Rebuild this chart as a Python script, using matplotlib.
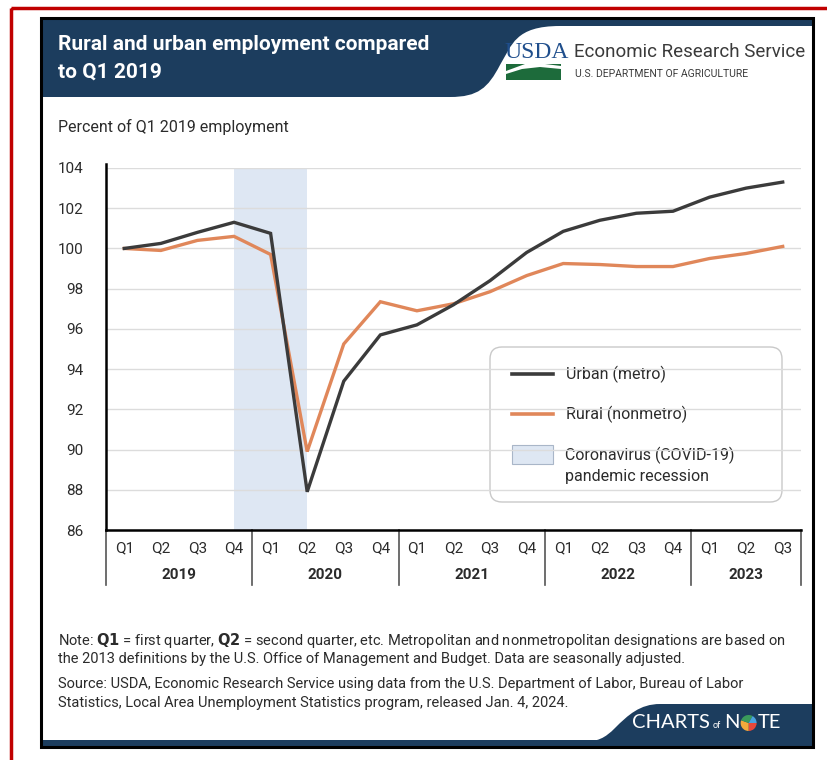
import matplotlib

matplotlib.use("Agg")
import matplotlib.pyplot as plt  # noqa: E402
from matplotlib import font_manager  # noqa: E402
from matplotlib.lines import Line2D  # noqa: E402
from matplotlib.patches import FancyBboxPatch, PathPatch, Rectangle, Wedge  # noqa: E402
from matplotlib.path import Path  # noqa: E402
import matplotlib.transforms as mtransforms  # noqa: E402

# Data: percent of Q1 2019 employment, quarterly 2019Q1 .. 2023Q3
quarters = ["Q1", "Q2", "Q3", "Q4"] * 4 + ["Q1", "Q2", "Q3"]
years = ["2019", "2020", "2021", "2022", "2023"]
urban = [100.0, 100.25, 100.8, 101.3, 100.75, 87.9, 93.4, 95.7,
         96.2, 97.2, 98.4, 99.8, 100.85, 101.4, 101.75, 101.85,
         102.55, 103.0, 103.3]
rural = [100.0, 99.9, 100.4, 100.6, 99.7, 89.9, 95.25, 97.35,
         96.9, 97.25, 97.85, 98.65, 99.25, 99.2, 99.1, 99.1,
         99.5, 99.75, 100.1]
recession = (3, 5)  # Q4 2019 .. Q2 2020 (index positions)
yticks = [86, 88, 90, 92, 94, 96, 98, 100, 102, 104]

NAVY = "#1c3d5e"
URBAN_C = "#3b3b3b"
RURAL_C = "#e0875a"
SHADE_C = "#dee7f3"
TEXT_C = "#2b2b2b"

names = {f.name for f in font_manager.fontManager.ttflist}
NARROW = "Liberation Sans Narrow" if "Liberation Sans Narrow" in names else "Roboto"
BODY = "Roboto"

W, H = 827, 760
fig = plt.figure(figsize=(W / 100, H / 100), dpi=100)

# background / decoration axes in pixel coordinates
bg = fig.add_axes([0, 0, 1, 1], zorder=0)
bg.set_xlim(0, W)
bg.set_ylim(H, 0)
bg.axis("off")

# outer red frame and inner black frame
bg.add_patch(Rectangle((11, 8), W, H, fill=False, ec="#c00000", lw=2.5))
bg.add_patch(Rectangle((41, 18), 772, 729, fill=False, ec="black", lw=2.2, zorder=5))

# header band with white logo area cut by a curve
bg.add_patch(Rectangle((41, 18), 772, 79, fc=NAVY, ec="none"))
verts = [(813, 26), (560, 26),
         (515, 26), (512, 45), (500, 65),
         (488, 88), (478, 97), (450, 97),
         (813, 97), (813, 26)]
codes = [Path.MOVETO, Path.LINETO,
         Path.CURVE4, Path.CURVE4, Path.CURVE4,
         Path.CURVE4, Path.CURVE4, Path.CURVE4,
         Path.LINETO, Path.CLOSEPOLY]
bg.add_patch(PathPatch(Path(verts, codes), fc="white", ec="none"))

bg.text(58, 45, "Rural and urban employment compared", color="white", fontsize=15,
        fontweight="bold", family=NARROW, va="center", ha="left")
bg.text(58, 72, "to Q1 2019", color="white", fontsize=15,
        fontweight="bold", family=NARROW, va="center", ha="left")

# USDA logo
bg.text(504, 52, "USDA", color="#1f4e8c", fontsize=17, family="Liberation Serif",
        va="center", ha="left")
bg.add_patch(Rectangle((506, 64), 55, 16, fc="#1d6b3b", ec="none"))
sw = [(506, 71), (525, 64), (545, 64), (561, 66), (561, 69), (540, 67), (522, 69), (506, 74)]
bg.add_patch(PathPatch(Path(sw + [sw[0]], [Path.MOVETO] + [Path.LINETO] * (len(sw) - 1) + [Path.CLOSEPOLY]),
                       fc="white", ec="none"))
bg.text(574, 52, "Economic Research Service", color="#3a3a3a", fontsize=13.5,
        family=NARROW, va="center", ha="left")
bg.text(575, 74, "U.S. DEPARTMENT OF AGRICULTURE", color="#3a3a3a", fontsize=7.5,
        family=NARROW, va="center", ha="left")

bg.text(58, 127, "Percent of Q1 2019 employment", color=TEXT_C, fontsize=11.5,
        family=BODY, va="center", ha="left")

# footer band
bg.add_patch(Rectangle((41, 740), 772, 7, fc=NAVY, ec="none"))
fverts = [(813, 704), (660, 704), (640, 704), (628, 715), (615, 728),
          (605, 738), (598, 742), (580, 742), (813, 742), (813, 704)]
fcodes = [Path.MOVETO, Path.LINETO, Path.CURVE4, Path.CURVE4, Path.CURVE4,
          Path.CURVE4, Path.CURVE4, Path.CURVE4, Path.LINETO, Path.CLOSEPOLY]
bg.add_patch(PathPatch(Path(fverts, fcodes), fc=NAVY, ec="none"))

# "CHARTS of NOTE" wordmark, pieces placed one after another
renderer = fig.canvas.get_renderer()
cx = 632
for txt, size, dy, gap in [("CHARTS", 14.5, 0, 3), ("of", 6.5, 3, 3), ("N", 14.5, 0, 1)]:
    t = bg.text(cx, 723 + dy, txt, color="white", fontsize=size, family="Lato",
                va="center", ha="left")
    cx = t.get_window_extent(renderer).x1 + gap
for a0, a1, c in [(0, 90, "#e8483a"), (90, 200, "#f2a93b"), (200, 300, "#3a9a5b"), (300, 360, "#4aa3df")]:
    bg.add_patch(Wedge((cx + 8, 723), 8, a0, a1, fc=c, ec="none"))
bg.text(cx + 17, 723, "TE", color="white", fontsize=14.5, family="Lato", va="center", ha="left")

# notes
note_kw = dict(color=TEXT_C, fontsize=10.5, family=NARROW, va="center", ha="left")
bg.text(58, 640, r"Note: $\mathbf{Q1}$ = first quarter, $\mathbf{Q2}$ = second quarter, etc. "
        "Metropolitan and nonmetropolitan designations are based on", **note_kw)
bg.text(58, 659, "the 2013 definitions by the U.S. Office of Management and Budget. "
        "Data are seasonally adjusted.", **note_kw)
bg.text(58, 684, "Source: USDA, Economic Research Service using data from the U.S. "
        "Department of Labor, Bureau of Labor", **note_kw)
bg.text(58, 703, "Statistics, Local Area Unemployment Statistics program, released Jan. 4, 2024.",
        **note_kw)

# main plot axes
x0, x1, ytop, ybot = 106, 801, 168, 530
ax = fig.add_axes([x0 / W, 1 - ybot / H, (x1 - x0) / W, (ybot - ytop) / H], zorder=2)
ax.set_facecolor("none")
xs = list(range(len(urban)))
ax.axvspan(recession[0], recession[1], color=SHADE_C, lw=0, zorder=0)
for yv in yticks:
    ax.axhline(yv, color="#dcdcdc", lw=1, zorder=1)
ax.plot(xs, rural, color=RURAL_C, lw=2.4, zorder=3, solid_joinstyle="miter")
ax.plot(xs, urban, color=URBAN_C, lw=2.4, zorder=4, solid_joinstyle="miter")
ax.set_xlim(-0.5, len(urban) - 0.5)
ax.set_ylim(86, 104)
ax.set_yticks(yticks)
ax.set_yticklabels([str(v) for v in yticks], family=BODY, fontsize=11, color=TEXT_C)
ax.set_xticks(xs)
ax.set_xticklabels(quarters, family=BODY, fontsize=11, color=TEXT_C)
ax.tick_params(axis="y", length=0, pad=16)
ax.tick_params(axis="x", length=0, pad=8)
for s in ["top", "right"]:
    ax.spines[s].set_visible(False)
ax.spines["left"].set_linewidth(1.8)
ax.spines["bottom"].set_linewidth(1.8)
ax.spines["left"].set_bounds(86, 104.2)

# year groups under the quarter labels
trans = mtransforms.blended_transform_factory(ax.transData, ax.transAxes)
bounds = [-0.5, 3.5, 7.5, 11.5, 15.5, len(urban) - 0.5]
for b in bounds:
    ax.add_line(Line2D([b, b], [0, -0.152], transform=trans, color="#555555",
                       lw=1.2, clip_on=False))
for i, yr in enumerate(years):
    ax.text((bounds[i] + bounds[i + 1]) / 2, -0.125, yr, transform=trans, ha="center",
            va="center", fontsize=11, fontweight="bold", family=BODY, color=TEXT_C)

# legend box
bg.add_patch(FancyBboxPatch((490, 347), 292, 155, boxstyle="round,pad=0,rounding_size=12",
                            fc="white", ec="#c9c9c9", lw=1, zorder=6))
bg.add_line(Line2D([512, 553], [374, 374], color=URBAN_C, lw=2.6, zorder=7))
bg.add_line(Line2D([512, 553], [414, 414], color=RURAL_C, lw=2.6, zorder=7))
bg.add_patch(Rectangle((512, 445), 41, 19, fc=SHADE_C, ec="#a9b6c8", lw=0.8, zorder=7))
leg_kw = dict(color=TEXT_C, fontsize=11.5, family=BODY, va="center", ha="left", zorder=7)
bg.text(566, 374, "Urban (metro)", **leg_kw)
bg.text(566, 414, "Rural (nonmetro)", **leg_kw)
bg.text(565, 455, "Coronavirus (COVID-19)", **leg_kw)
bg.text(565, 477, "pandemic recession", **leg_kw)

fig.savefig("out.png", dpi=100)
